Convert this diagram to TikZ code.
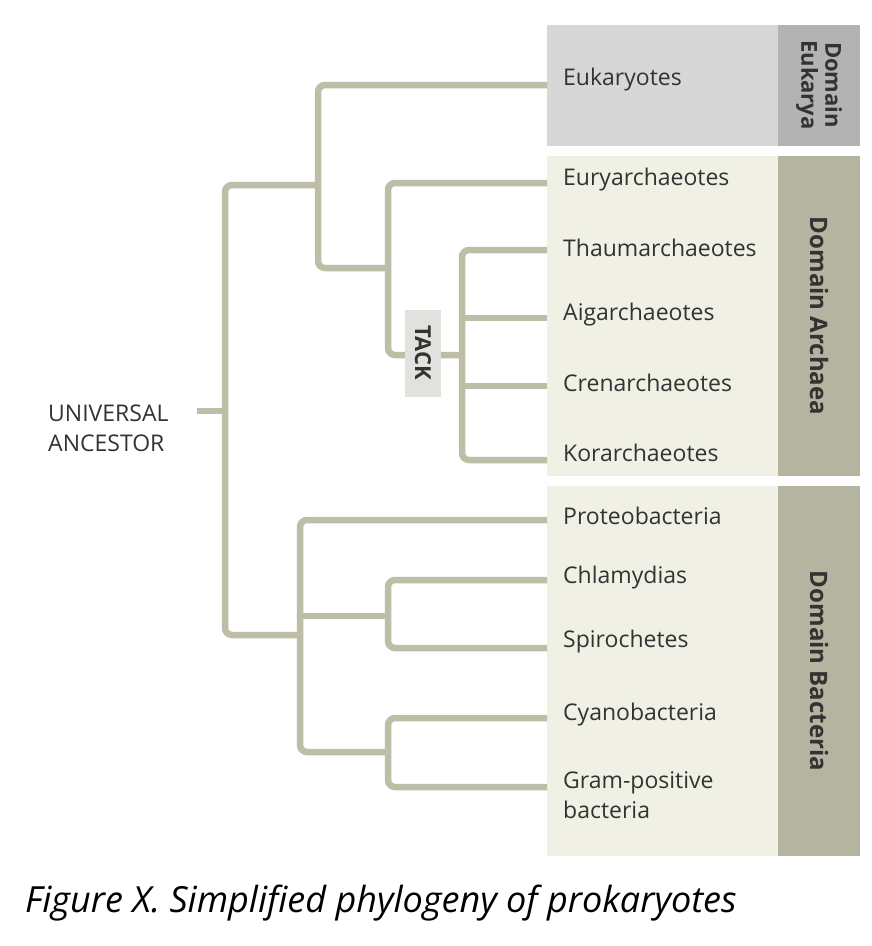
\documentclass[tikz,border=0pt]{standalone}
\usepackage{fontspec}
\setmainfont{Open Sans}
\begin{document}
\begin{tikzpicture}[x=1pt,y=-1pt,
  br/.style={draw=brc,line width=6.5pt,rounded corners=7pt},
  lab/.style={anchor=west,font=\fontsize{23}{30}\selectfont,text=txt,inner sep=0pt},
  dom/.style={rotate=-90,font=\bfseries\fontsize{24}{25}\selectfont,text=txt,align=center,inner sep=0pt}]
\definecolor{brc}{HTML}{BEBDA7}
\definecolor{txt}{HTML}{333333}
\definecolor{lightA}{HTML}{F0F0E5}
\definecolor{darkA}{HTML}{B5B4A0}
\definecolor{lightE}{HTML}{D7D7D7}
\definecolor{darkE}{HTML}{B3B3B3}
\useasboundingbox (0,0) rectangle (872,946);
\fill[white] (0,0) rectangle (872,946);
% boxes
\fill[lightE] (547,25) rectangle (778,146);
\fill[darkE] (778,25) rectangle (860,146);
\fill[lightA] (547,156) rectangle (778,476);
\fill[darkA] (778,156) rectangle (860,476);
\fill[lightA] (547,486) rectangle (778,856);
\fill[darkA] (778,486) rectangle (860,856);
\node[dom,font=\bfseries\fontsize{22}{24}\selectfont] (dE) at (819,85) {Domain\\Eukarya};
\node[dom] (dA) at (819,316) {Domain Archaea};
\node[dom] (dB) at (819,671) {Domain Bacteria};
% labels
\node[lab] (euk) at (563,80) {Eukaryotes};
\node[lab] (eury) at (563,180) {Euryarchaeotes};
\node[lab] (thau) at (563,248) {Thaumarchaeotes};
\node[lab] (aig) at (563,315) {Aigarchaeotes};
\node[lab] (cren) at (563,383) {Crenarchaeotes};
\node[lab] (kor) at (563,453) {Korarchaeotes};
\node[lab] (prot) at (563,516) {Proteobacteria};
\node[lab] (chla) at (563,578) {Chlamydias};
\node[lab] (spir) at (563,642) {Spirochetes};
\node[lab] (cyan) at (563,715) {Cyanobacteria};
\node[lab,align=left] (gram) at (563,795) {Gram-positive\\bacteria};
\node[lab,align=left] (ua) at (48,428) {UNIVERSAL\\ANCESTOR};
\coordinate (tE) at (547,85);
\coordinate (tEu) at (547,183);
\coordinate (tTh) at (547,250);
\coordinate (tAi) at (547,318);
\coordinate (tCr) at (547,386);
\coordinate (tKo) at (547,460);
\coordinate (tPr) at (547,520);
\coordinate (tCh) at (547,580);
\coordinate (tSp) at (547,648);
\coordinate (tCy) at (547,718);
\coordinate (tGr) at (547,787);
\coordinate (root) at (197,411);
% tree
\draw[br] (root) -- (225,411);
\draw[br] (318,185) -- (225,185) -- (225,635) -- (300,635);
\draw[br] (tE) -- (318,85) -- (318,268) -- (388,268);
\draw[br] (tEu) -- (388,183) -- (388,355) -- (462,355);
\draw[br] (tTh) -- (462,250) -- (462,460) -- (tKo);
\draw[br] (462,318) -- (tAi);
\draw[br] (462,386) -- (tCr);
\draw[br] (tPr) -- (300,520) -- (300,752) -- (388,752);
\draw[br] (300,616) -- (388,616);
\draw[br] (tCh) -- (388,580) -- (388,648) -- (tSp);
\draw[br] (tCy) -- (388,718) -- (388,787) -- (tGr);
\fill[lightE!60!lightA] (405,310) rectangle (441,397);
\node[dom,font=\bfseries\fontsize{22}{24}\selectfont] (tack) at (423,353) {TACK};
\node[anchor=west,inner sep=0pt,font=\itshape\fontsize{36}{40}\selectfont,text=black] (cap) at (25,903) {Figure X. Simplified phylogeny of prokaryotes};
\end{tikzpicture}
\end{document}
